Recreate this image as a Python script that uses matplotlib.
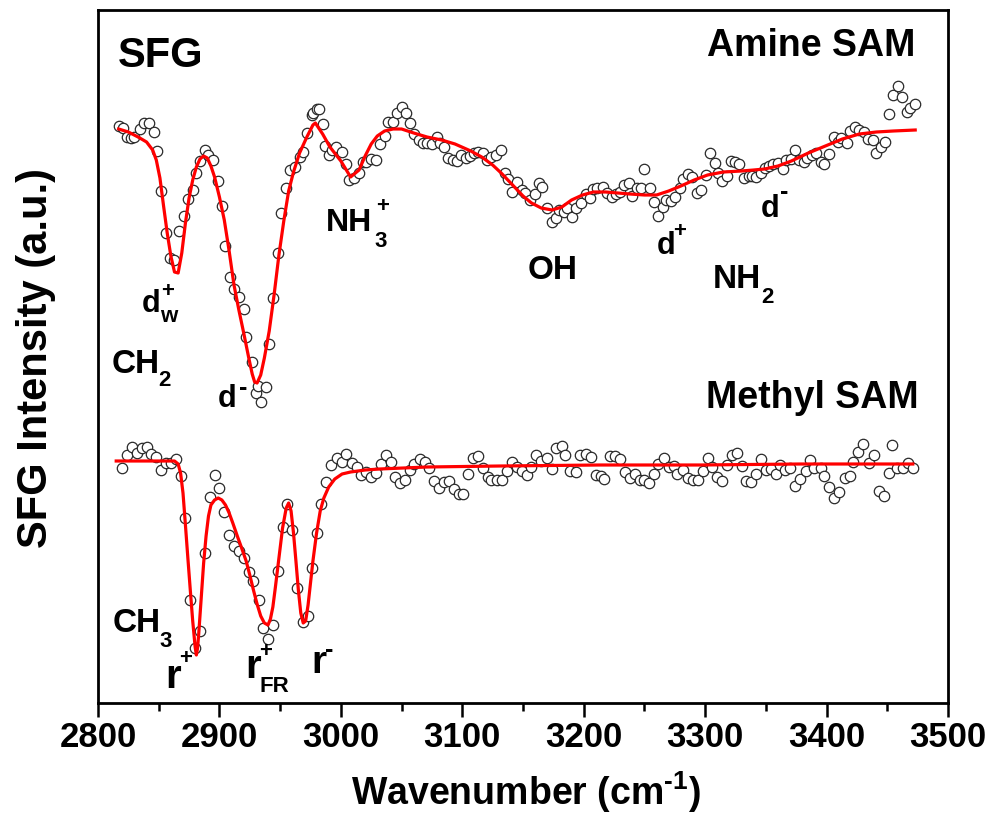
import matplotlib
matplotlib.use("Agg")
import matplotlib.pyplot as plt
from matplotlib.ticker import MultipleLocator

plt.rcParams['font.family'] = ['Liberation Sans', 'DejaVu Sans']
plt.rcParams['font.weight'] = 'bold'
plt.rcParams['mathtext.fontset'] = 'custom'
plt.rcParams['mathtext.rm'] = 'Liberation Sans:bold'
plt.rcParams['mathtext.bf'] = 'Liberation Sans:bold'
plt.rcParams['mathtext.it'] = 'Liberation Sans:bold'

# ---------------- Amine SAM data ----------------
amine_w = [2817, 2821, 2824, 2827, 2830, 2835, 2838, 2842, 2846, 2849, 2852, 2856, 2859, 2863,
           2867, 2871, 2874, 2878, 2881, 2884, 2888, 2891, 2895, 2899, 2902, 2905, 2909, 2912,
           2916, 2920, 2922, 2927, 2930, 2932, 2934, 2938, 2941, 2944, 2948, 2951, 2955, 2958,
           2962, 2966, 2969, 2972, 2976, 2977, 2980, 2982, 2985, 2987, 2990, 2993, 2996, 3001,
           3004, 3007, 3011, 3015, 3018, 3021, 3025, 3029, 3032, 3036, 3039, 3043, 3046, 3050,
           3054, 3057, 3060, 3064, 3068, 3071, 3075, 3079, 3082, 3085, 3088, 3092, 3096, 3099,
           3103, 3106, 3110, 3113, 3117, 3120, 3124, 3128, 3132, 3135, 3138, 3141, 3145, 3149,
           3152, 3156, 3160, 3163, 3166, 3170, 3174, 3177, 3180, 3184, 3186, 3190, 3194, 3198,
           3202, 3205, 3208, 3211, 3216, 3219, 3223, 3227, 3230, 3233, 3237, 3240, 3244, 3247,
           3250, 3255, 3258, 3261, 3265, 3268, 3272, 3275, 3279, 3282, 3286, 3289, 3293, 3297,
           3301, 3304, 3308, 3311, 3314, 3318, 3321, 3325, 3328, 3332, 3336, 3339, 3342, 3346,
           3349, 3353, 3356, 3360, 3364, 3367, 3371, 3374, 3377, 3381, 3384, 3388, 3391, 3395,
           3398, 3402, 3406, 3409, 3412, 3417, 3419, 3423, 3427, 3431, 3434, 3438, 3441, 3445,
           3448, 3451, 3455, 3459, 3462, 3466, 3469, 3473]
amine_i = [5.77, 5.75, 5.66, 5.65, 5.66, 5.74, 5.80, 5.80, 5.71, 5.52, 5.12, 4.70, 4.45, 4.43,
           4.72, 4.87, 5.04, 5.13, 5.30, 5.42, 5.53, 5.48, 5.43, 5.22, 4.97, 4.57, 4.26, 4.14,
           4.06, 3.94, 3.66, 3.41, 3.10, 3.17, 3.01, 3.16, 3.59, 4.05, 4.50, 4.90, 5.15, 5.33,
           5.36, 5.46, 5.51, 5.70, 5.88, 5.90, 5.94, 5.94, 5.79, 5.57, 5.48, 5.53, 5.56, 5.51,
           5.39, 5.23, 5.25, 5.30, 5.41, 5.41, 5.44, 5.43, 5.59, 5.67, 5.81, 5.81, 5.90, 5.96,
           5.90, 5.80, 5.69, 5.63, 5.60, 5.60, 5.59, 5.66, 5.60, 5.56, 5.45, 5.43, 5.42, 5.48,
           5.45, 5.47, 5.50, 5.51, 5.50, 5.43, 5.46, 5.48, 5.53, 5.30, 5.24, 5.11, 5.21, 5.13,
           5.10, 5.03, 5.09, 5.20, 5.16, 4.95, 4.81, 4.85, 4.93, 4.91, 4.95, 4.86, 4.95, 5.00,
           5.09, 5.05, 5.14, 5.15, 5.16, 5.10, 5.06, 5.09, 5.11, 5.18, 5.20, 5.07, 5.15, 5.15,
           5.34, 5.15, 5.01, 4.87, 4.96, 5.03, 5.02, 5.06, 5.15, 5.24, 5.29, 5.26, 5.10, 5.13,
           5.28, 5.50, 5.40, 5.30, 5.22, 5.27, 5.42, 5.41, 5.39, 5.25, 5.27, 5.27, 5.26, 5.30,
           5.35, 5.37, 5.39, 5.40, 5.34, 5.43, 5.44, 5.53, 5.43, 5.41, 5.45, 5.48, 5.50, 5.41,
           5.39, 5.49, 5.66, 5.61, 5.65, 5.60, 5.72, 5.76, 5.73, 5.71, 5.64, 5.63, 5.50, 5.56,
           5.61, 5.89, 6.08, 6.17, 6.06, 5.91, 5.95, 5.99]

amine_fit_w = [2817, 2825, 2833, 2840, 2845, 2848, 2851, 2854, 2857, 2860, 2863, 2866, 2869,
               2872, 2875, 2878, 2881, 2884, 2887, 2890, 2893, 2896, 2900, 2904, 2908, 2912,
               2916, 2920, 2924, 2927, 2929, 2931, 2934, 2937, 2941, 2945, 2949, 2953, 2957,
               2961, 2966, 2972, 2977, 2979, 2985, 2991, 3000, 3008, 3012, 3015, 3020, 3025,
               3030, 3036, 3043, 3050, 3060, 3071, 3083, 3094, 3107, 3116, 3125, 3132, 3143,
               3150, 3157, 3165, 3174, 3182, 3190, 3199, 3208, 3218, 3228, 3238, 3250, 3260,
               3270, 3280, 3291, 3302, 3315, 3330, 3340, 3349, 3360, 3371, 3385, 3399, 3413,
               3427, 3441, 3455, 3473]
amine_fit_i = [5.74, 5.71, 5.66, 5.61, 5.53, 5.43, 5.25, 4.97, 4.70, 4.47, 4.31, 4.30, 4.50,
               4.80, 5.05, 5.23, 5.36, 5.44, 5.47, 5.45, 5.37, 5.26, 5.06, 4.83, 4.52, 4.18,
               3.93, 3.70, 3.46, 3.29, 3.21, 3.20, 3.28, 3.45, 3.72, 4.08, 4.48, 4.82, 5.12,
               5.31, 5.50, 5.66, 5.78, 5.80, 5.69, 5.56, 5.42, 5.26, 5.30, 5.33, 5.47, 5.59,
               5.67, 5.72, 5.74, 5.74, 5.70, 5.66, 5.63, 5.59, 5.52, 5.46, 5.38, 5.30, 5.16,
               5.07, 5.00, 4.95, 4.93, 4.96, 5.03, 5.08, 5.11, 5.11, 5.10, 5.09, 5.08, 5.08,
               5.12, 5.17, 5.23, 5.28, 5.31, 5.32, 5.33, 5.34, 5.37, 5.42, 5.50, 5.57, 5.64,
               5.69, 5.71, 5.72, 5.73]

# ---------------- Methyl SAM data ----------------
methyl_w = [2820, 2824, 2828, 2832, 2836, 2840, 2844, 2848, 2852, 2856, 2860, 2864, 2868, 2872,
            2876, 2880, 2884, 2888, 2892, 2896, 2900, 2904, 2908, 2912, 2916, 2920, 2924, 2928,
            2933, 2936, 2940, 2944, 2948, 2952, 2956, 2960, 2964, 2969, 2973, 2976, 2980, 2984,
            2988, 2992, 2997, 3001, 3004, 3009, 3013, 3017, 3021, 3025, 3029, 3033, 3037, 3041,
            3045, 3049, 3053, 3057, 3060, 3065, 3069, 3073, 3077, 3081, 3085, 3089, 3093, 3097,
            3101, 3105, 3109, 3113, 3117, 3121, 3124, 3129, 3133, 3137, 3141, 3145, 3149, 3153,
            3157, 3161, 3165, 3170, 3174, 3177, 3182, 3185, 3189, 3194, 3197, 3202, 3206, 3210,
            3214, 3217, 3222, 3226, 3230, 3234, 3238, 3242, 3246, 3250, 3254, 3258, 3261, 3266,
            3270, 3274, 3277, 3282, 3286, 3290, 3294, 3298, 3302, 3306, 3310, 3314, 3318, 3322,
            3326, 3330, 3334, 3338, 3342, 3346, 3350, 3354, 3358, 3362, 3366, 3370, 3374, 3378,
            3383, 3386, 3390, 3395, 3398, 3402, 3406, 3410, 3415, 3419, 3422, 3426, 3430, 3435,
            3439, 3443, 3447, 3451, 3454, 3458, 3463, 3467, 3471]
methyl_i = [2.35, 2.48, 2.56, 2.50, 2.55, 2.56, 2.49, 2.46, 2.33, 2.40, 2.40, 2.44, 2.27, 1.85,
            1.03, 0.55, 0.72, 1.50, 2.06, 2.28, 2.15, 1.91, 1.68, 1.57, 1.52, 1.45, 1.31, 1.22,
            1.03, 0.75, 0.64, 0.78, 1.32, 1.76, 1.99, 1.73, 1.15, 0.81, 0.87, 1.35, 1.70, 1.99,
            2.21, 2.38, 2.45, 2.41, 2.49, 2.40, 2.36, 2.28, 2.31, 2.26, 2.30, 2.39, 2.48, 2.41,
            2.26, 2.20, 2.23, 2.33, 2.39, 2.44, 2.41, 2.35, 2.22, 2.15, 2.21, 2.22, 2.14, 2.09,
            2.09, 2.29, 2.45, 2.47, 2.35, 2.26, 2.23, 2.23, 2.23, 2.32, 2.41, 2.36, 2.32, 2.28,
            2.36, 2.48, 2.42, 2.45, 2.34, 2.55, 2.57, 2.48, 2.32, 2.31, 2.48, 2.49, 2.46, 2.28,
            2.27, 2.24, 2.47, 2.47, 2.44, 2.31, 2.25, 2.29, 2.23, 2.23, 2.20, 2.29, 2.39, 2.45,
            2.36, 2.37, 2.29, 2.33, 2.25, 2.23, 2.23, 2.32, 2.45, 2.36, 2.26, 2.22, 2.38, 2.48,
            2.50, 2.37, 2.22, 2.21, 2.29, 2.44, 2.33, 2.34, 2.29, 2.38, 2.33, 2.35, 2.17, 2.24,
            2.32, 2.43, 2.35, 2.35, 2.27, 2.16, 2.05, 2.11, 2.25, 2.27, 2.41, 2.51, 2.59, 2.40,
            2.48, 2.12, 2.07, 2.30, 2.58, 2.35, 2.35, 2.40, 2.35]

methyl_fit_w = [2815, 2863, 2866, 2868, 2870, 2872, 2874, 2876, 2878, 2880, 2881, 2882, 2883,
                2885, 2887, 2889, 2891, 2893, 2896, 2899, 2902, 2905, 2908, 2911, 2915, 2918,
                2922, 2925, 2928, 2931, 2934, 2937, 2940, 2942, 2944, 2946, 2949, 2952, 2955,
                2957, 2959, 2961, 2963, 2965, 2967, 2969, 2971, 2973, 2975, 2977, 2980, 2983,
                2986, 2990, 2995, 3001, 3008, 3020, 3032, 3071, 3131, 3213, 3296, 3378, 3471]
methyl_fit_i = [2.42, 2.42, 2.39, 2.30, 2.10, 1.78, 1.45, 1.13, 0.82, 0.56, 0.48, 0.55, 0.70,
                1.05, 1.40, 1.67, 1.87, 1.98, 2.03, 2.05, 2.03, 1.98, 1.90, 1.80, 1.66, 1.56,
                1.42, 1.28, 1.13, 0.99, 0.87, 0.80, 0.78, 0.84, 0.96, 1.15, 1.45, 1.75, 1.95,
                2.00, 1.92, 1.70, 1.42, 1.13, 0.90, 0.80, 0.82, 0.98, 1.20, 1.42, 1.70, 1.92,
                2.05, 2.16, 2.24, 2.29, 2.31, 2.33, 2.34, 2.36, 2.37, 2.38, 2.38, 2.39, 2.39]

x_ticks = [2800, 2900, 3000, 3100, 3200, 3300, 3400, 3500]

# titles: (text, wavenumber, intensity, fontsize) - centred
titles = [
    ("SFG", 2852, 6.47, 30),
    ("Amine SAM", 3387, 6.57, 27),
    ("Methyl SAM", 3388, 3.05, 27),
]

# band labels built from pieces: (text, wavenumber, intensity(baseline), fontsize) - left aligned
pieces = [
    ("CH", 2811, 3.30, 24), ("2", 2850, 3.17, 16),
    ("d", 2836, 3.91, 22), ("+", 2852, 4.06, 16), ("w", 2851, 3.81, 16),
    ("d", 2899, 2.96, 22), ("-", 2916, 3.08, 18),
    ("NH", 2988, 4.72, 23), ("3", 3028, 4.56, 16), ("+", 3029, 4.91, 16),
    ("OH", 3154, 4.235, 24),
    ("d", 3260, 4.49, 22), ("+", 3274, 4.66, 16),
    ("d", 3346, 4.86, 22), ("-", 3362, 5.04, 18),
    ("NH", 3306, 4.15, 24), ("2", 3346, 4.00, 16),
    ("CH", 2812, 0.71, 24), ("3", 2851, 0.56, 16),
    ("r", 2855, 0.15, 29), ("+", 2867, 0.39, 16),
    ("r", 2921, 0.25, 29), ("+", 2933, 0.46, 16), ("FR", 2933, 0.11, 16),
    ("r", 2976, 0.30, 28), ("-", 2987, 0.46, 18),
]

fig = plt.figure(figsize=(9.93, 8.31), dpi=100)
ax = fig.add_axes([98 / 993, 1 - 703 / 831, 850 / 993, 693 / 831])

ax.plot(amine_w, amine_i, linestyle='none', marker='o', markersize=7.5,
        markerfacecolor='white', markeredgecolor='#2a2a2a', markeredgewidth=0.9, zorder=2)
ax.plot(amine_fit_w, amine_fit_i, color='#ff0000', linewidth=2.3, zorder=3)
ax.plot(methyl_w, methyl_i, linestyle='none', marker='o', markersize=7.5,
        markerfacecolor='white', markeredgecolor='#2a2a2a', markeredgewidth=0.9, zorder=2)
ax.plot(methyl_fit_w, methyl_fit_i, color='#ff0000', linewidth=2.3, zorder=3)

ax.set_xlim(2800, 3500)
ax.set_ylim(0, 6.93)
ax.set_xticks(x_ticks)
ax.set_xticklabels([str(t) for t in x_ticks])
ax.xaxis.set_minor_locator(MultipleLocator(50))
ax.tick_params(axis='x', which='major', direction='out', length=10, width=1.8,
               labelsize=25, pad=3, top=False)
ax.tick_params(axis='x', which='minor', direction='out', length=6, width=1.8, top=False)
ax.set_yticks([])
for lab in ax.get_xticklabels():
    lab.set_fontweight('bold')
for sp in ax.spines.values():
    sp.set_linewidth(2.0)

for txt, w, v, fs in titles:
    ax.text(w, v, txt, ha='center', va='center', fontsize=fs, fontweight='bold', color='black')
for txt, w, v, fs in pieces:
    ax.text(w, v, txt, ha='left', va='baseline', fontsize=fs, fontweight='bold', color='black')

fig.text(526 / 993, 1 - 792 / 831, r"Wavenumber (cm$^{\text{-}\mathbf{1}}$)", ha='center',
         va='center', fontsize=27, fontweight='bold')
fig.text(36 / 993, 1 - 358 / 831, "SFG Intensity (a.u.)", rotation=90, ha='center',
         va='center', fontsize=30, fontweight='bold')

fig.savefig("out.png", dpi=100)
